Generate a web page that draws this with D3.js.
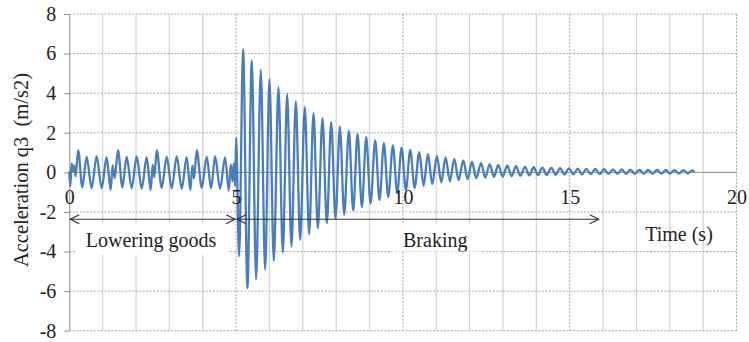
<!DOCTYPE html>
<html>
<head>
<meta charset="utf-8">
<script src="https://cdn.jsdelivr.net/npm/d3@7"></script>
<style>
	body { margin: 0; background: white; }
	svg { display: block; font-family: 'Liberation Serif', 'Times New Roman', serif; }
</style>
</head>
<body>
<div class="chart"></div>
<script>
// peaks and troughs, [time (s), acceleration (m/s2)]
const lowering = [
	[0.00, 0.05], [0.03, -0.70], [0.07, 0.45], [0.11, 0.05], [0.15, 0.35], [0.19, -0.20],
	[0.265, 1.12], [0.39, -0.75], [0.52, 0.78], [0.67, -0.80], [0.82, 0.80], [0.97, -0.80],
	[1.12, 0.75], [1.24, -0.88], [1.30, 0.35], [1.36, -0.30],
	[1.46, 1.12], [1.59, -0.75], [1.72, 0.78], [1.87, -0.80], [2.02, 0.80], [2.17, -0.82],
	[2.32, 0.75], [2.44, -0.90], [2.50, 0.38], [2.55, -0.25],
	[2.62, 1.12], [2.77, -0.78], [2.92, 0.78], [3.07, -0.80], [3.22, 0.80], [3.37, -0.82],
	[3.52, 0.75], [3.63, -0.90], [3.69, 0.35], [3.74, -0.30],
	[3.82, 1.12], [3.97, -0.78], [4.12, 0.78], [4.25, -0.80], [4.37, 0.80], [4.52, -0.82],
	[4.67, 0.75], [4.78, -0.92], [4.84, 0.40], [4.89, -0.45], [4.93, 0.45], [4.97, -0.70]
]

const braking = [
	[5.00, 1.74], [5.09, -4.25],
	[5.21, 6.22], [5.34, -5.85], [5.47, 5.65], [5.60, -5.40], [5.74, 5.18], [5.87, -4.92],
	[6.00, 4.72], [6.13, -4.47], [6.27, 4.30], [6.40, -4.05], [6.53, 3.95], [6.66, -3.75],
	[6.79, 3.58], [6.92, -3.41], [7.06, 3.29], [7.19, -3.11], [7.32, 2.99], [7.45, -2.82],
	[7.59, 2.74], [7.72, -2.57], [7.85, 2.53], [7.98, -2.33], [8.11, 2.31], [8.24, -2.13],
	[8.38, 2.11], [8.51, -1.93], [8.64, 1.94], [8.77, -1.75], [8.90, 1.78], [9.03, -1.57],
	[9.17, 1.62], [9.30, -1.40], [9.43, 1.48], [9.56, -1.25], [9.70, 1.36], [9.83, -1.05],
	[9.96, 1.25], [10.09, -0.90], [10.22, 1.14], [10.35, -0.78], [10.49, 1.02], [10.62, -0.68],
	[10.75, 0.92], [10.88, -0.59], [11.02, 0.83], [11.15, -0.51], [11.28, 0.75], [11.41, -0.45],
	[11.54, 0.68], [11.67, -0.39], [11.81, 0.60], [11.94, -0.34], [12.07, 0.53], [12.20, -0.30],
	[12.34, 0.47], [12.47, -0.26], [12.60, 0.42], [12.73, -0.23], [12.86, 0.38], [12.99, -0.21],
	[13.13, 0.34], [13.26, -0.19], [13.39, 0.31], [13.52, -0.17], [13.66, 0.28], [13.79, -0.15],
	[13.92, 0.26], [14.05, -0.14], [14.18, 0.24], [14.31, -0.13], [14.45, 0.22], [14.58, -0.12],
	[14.71, 0.21], [14.84, -0.11], [14.98, 0.20], [15.11, -0.10], [15.24, 0.19], [15.37, -0.10],
	[15.50, 0.18], [15.63, -0.09], [15.77, 0.17], [15.90, -0.09], [16.03, 0.16], [16.16, -0.08],
	[16.30, 0.15], [16.43, -0.08], [16.56, 0.15], [16.69, -0.08], [16.82, 0.14], [16.95, -0.07],
	[17.09, 0.13], [17.22, -0.07], [17.35, 0.13], [17.48, -0.07], [17.62, 0.12], [17.75, -0.06],
	[17.88, 0.12], [18.01, -0.06], [18.14, 0.11], [18.27, -0.06], [18.41, 0.11], [18.54, -0.05],
	[18.67, 0.10], [18.74, 0.02]
]

const xTicks = [0, 5, 10, 15, 20]
const xMinor = d3.range(0, 21)
const yTicks = [-8, -6, -4, -2, 0, 2, 4, 6, 8]

// phase arrows along the bottom
const phases = [
	{label: 'Lowering goods', from: 0, to: 5, at: 2.45},
	{label: 'Braking', from: 5, to: 15.9, at: 10.97}
]

const width = 749
const height = 342
const svg = d3.select('.chart')
	.append('svg')
	.attr('width', width)
	.attr('height', height)
	.attr('viewBox', [0, 0, width, height])

const x = d3.scaleLinear().domain([0, 20]).range([69.3, 736.5])
const y = d3.scaleLinear().domain([-8, 8]).range([330.7, 14])

// minor vertical grid (solid, light)
svg.selectAll('line.minor')
	.data(xMinor.filter(d => d % 5 != 0))
	.enter()
	.append('line')
	.attr('x1', d => x(d))
	.attr('x2', d => x(d))
	.attr('y1', y(8))
	.attr('y2', y(-8))
	.attr('stroke', '#d4d4d4')
	.attr('stroke-width', 1.3)

// major vertical grid (dashed)
svg.selectAll('line.vmajor')
	.data(xTicks.filter(d => d != 0))
	.enter()
	.append('line')
	.attr('x1', d => x(d))
	.attr('x2', d => x(d))
	.attr('y1', y(8))
	.attr('y2', y(-8))
	.attr('stroke', '#a6a6a6')
	.attr('stroke-dasharray', '2,1.5')

// horizontal grid (dashed)
svg.selectAll('line.hgrid')
	.data(yTicks.filter(d => d != 0))
	.enter()
	.append('line')
	.attr('x1', x(0))
	.attr('x2', x(20))
	.attr('y1', d => y(d))
	.attr('y2', d => y(d))
	.attr('stroke', '#a6a6a6')
	.attr('stroke-dasharray', '2,1.5')

// label boxes hide the grid behind the text
svg.append('rect')
	.attr('x', 75).attr('y', 223)
	.attr('width', 153).attr('height', 32)
	.attr('fill', 'white')
svg.append('rect')
	.attr('x', 392).attr('y', 224)
	.attr('width', 90).attr('height', 27.5)
	.attr('fill', 'white')

// y axis (plain hyphen for negatives, as in the figure)
const yAxis = svg.append('g')
	.attr('transform', `translate(${x(0)},0)`)
	.call(d3.axisLeft(y).tickValues(yTicks).tickFormat(d => String(d))
		.tickSize(5).tickPadding(8).tickSizeOuter(0))
yAxis.select('.domain').attr('stroke', '#8c8c8c')
yAxis.selectAll('.tick line').attr('stroke', '#8c8c8c')
yAxis.selectAll('.tick text')
	.attr('font-size', '20px')
	.attr('font-family', "'Liberation Serif', 'Times New Roman', serif")
	.attr('fill', '#222')

// zero line
svg.append('line')
	.attr('x1', x(0))
	.attr('x2', x(20))
	.attr('y1', y(0))
	.attr('y2', y(0))
	.attr('stroke', '#8c8c8c')

// acceleration curve
const line = d3.line()
	.x(d => x(d[0]))
	.y(d => y(d[1]))
	.curve(d3.curveMonotoneX)

svg.append('path')
	.datum(lowering.concat(braking))
	.attr('d', line)
	.attr('fill', 'none')
	.attr('stroke', '#4a7ebb')
	.attr('stroke-width', 2.3)
	.attr('stroke-linejoin', 'round')

// x tick labels
const xAxis = svg.append('g')
	.attr('transform', `translate(0,${y(0)})`)
	.call(d3.axisBottom(x).tickValues(xTicks).tickFormat(d => String(d)).tickSize(0).tickPadding(17))
xAxis.select('.domain').remove()
xAxis.selectAll('.tick text')
	.attr('font-size', '20px')
	.attr('font-family', "'Liberation Serif', 'Times New Roman', serif")
	.attr('fill', '#222')

// phase arrows
const arrowY = y(-2.37)
phases.forEach(p => {
	const x1 = x(p.from) + 1
	const x2 = x(p.to) - 1
	svg.append('line')
		.attr('x1', x1).attr('x2', x2)
		.attr('y1', arrowY).attr('y2', arrowY)
		.attr('stroke', '#333')
		.attr('stroke-width', 1.2)
	svg.append('path')
		.attr('d', `M${x1 + 9},${arrowY - 4.5}L${x1},${arrowY}L${x1 + 9},${arrowY + 4.5}`)
		.attr('fill', 'none')
		.attr('stroke', '#333')
		.attr('stroke-width', 1.2)
	svg.append('path')
		.attr('d', `M${x2 - 9},${arrowY - 4.5}L${x2},${arrowY}L${x2 - 9},${arrowY + 4.5}`)
		.attr('fill', 'none')
		.attr('stroke', '#333')
		.attr('stroke-width', 1.2)
})

// clip for the "Braking" text box (bottom is cut off in the figure)
svg.append('clipPath')
	.attr('id', 'brakeclip')
	.append('rect')
	.attr('x', 380).attr('y', 220)
	.attr('width', 110).attr('height', 31.5)

svg.selectAll('text.phase')
	.data(phases)
	.enter()
	.append('text')
	.attr('class', 'phase')
	.text(d => d.label)
	.attr('x', d => x(d.at))
	.attr('y', 247)
	.attr('text-anchor', 'middle')
	.attr('font-size', '20px')
	.attr('fill', '#222')
	.attr('clip-path', d => d.label == 'Braking' ? 'url(#brakeclip)' : null)

// axis titles
svg.append('text')
	.text('Time (s)')
	.attr('x', 679)
	.attr('y', 241)
	.attr('text-anchor', 'middle')
	.attr('font-size', '20px')
	.attr('fill', '#222')

svg.append('text')
	.text('Acceleration q3  (m/s2)')
	.attr('transform', 'translate(28,170) rotate(-90)')
	.attr('text-anchor', 'middle')
	.attr('font-size', '20.5px')
	.attr('fill', '#222')
	.style('white-space', 'pre')
</script>
</body>
</html>
